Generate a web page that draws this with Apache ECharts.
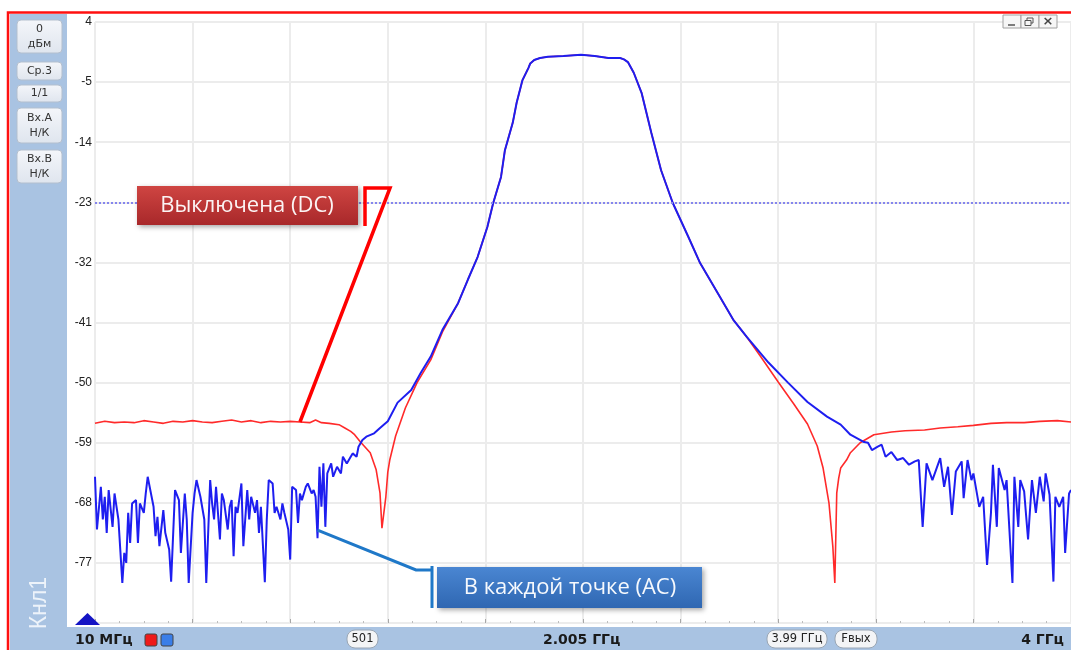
<!DOCTYPE html>
<html>
<head>
<meta charset="utf-8">
<script src="https://cdn.jsdelivr.net/npm/echarts/dist/echarts.min.js"></script>
<style>
  html, body { margin: 0; padding: 0; background: #ffffff; }
  #chart { width: 1071px; height: 650px; }
</style>
</head>
<body>
<div id="chart"></div>
<script>
// Sweep: 501 points from 10 MHz to 4 GHz; x values are sweep point indices.
const sweepLastPoint = 500;
const startLabel = '10 МГц';
const centerLabel = '2.005 ГГц';
const stopLabel = '4 ГГц';
const pointsLabel = '501';
const spanLabel = '3.99 ГГц';
const outLabel = 'Fвых';
const channelLabel = 'Кнл1';
const levelMin = -86, levelMax = 4, levelStep = 9;   // dB scale, labels -77 … 4
const refLevel = -23;                                 // dotted reference line

const panelButtons = [['0', 'дБм'], ['Ср.3'], ['1/1'], ['Вх.А', 'Н/К'], ['Вх.В', 'Н/К']];

const dcLabel = 'Выключена (DC)';
const acLabel = 'В каждой точке (AC)';

// AC-coupled trace (blue): sweep point index / level, dB
const acIdx = [0,1,3,4,5,6,7,9,10,12,14,15,16,17,18,19,21,22,23,25,26,27,29,30,31,32,33,35,36,38,39,41,43,44,46,47,48,50,51,52,54,56,57,59,60,61,62,64,65,66,68,69,70,71,72,73,75,76,78,79,80,82,83,84,85,87,88,89,91,92,93,95,96,97,99,100,101,103,104,105,106,108,109,111,112,113,114,115,116,117,118,119,121,122,124,126,127,129,131,132,134,135,137,139,143,146,150,155,162,167,172,178,186,191,196,201,204,208,210,214,216,219,222,223,225,228,232,240,249,256,263,269,271,273,276,280,285,290,296,304,310,319,327,334,345,355,365,375,382,387,394,396,398,401,403,405,408,411,414,417,420,422,424,426,429,433,435,437,439,441,444,445,447,449,450,453,455,457,459,460,462,463,466,467,470,471,473,474,476,478,480,482,484,486,487,489,491,492,494,496,497,499,500];
const acDb = [-64.1,-72.0,-65.6,-70.5,-67.1,-72.5,-66.1,-71.6,-66.6,-70.5,-80.0,-75.5,-77.0,-69.5,-74.0,-68.1,-67.6,-74.0,-68.1,-69.5,-66.6,-64.1,-67.1,-68.6,-73.0,-70.1,-74.5,-69.1,-72.5,-75.0,-79.8,-66.1,-67.6,-75.5,-66.6,-70.5,-80.0,-69.5,-66.6,-64.6,-67.1,-70.5,-80.0,-64.6,-68.1,-70.5,-65.6,-73.5,-66.6,-67.6,-72.0,-68.6,-67.6,-76.0,-68.6,-69.5,-65.1,-74.5,-66.1,-70.5,-67.1,-69.5,-67.6,-72.5,-68.6,-79.9,-70.5,-64.6,-65.1,-69.5,-68.6,-70.5,-68.1,-69.5,-72.0,-76.5,-65.6,-66.1,-71.0,-66.6,-67.6,-65.6,-65.1,-66.6,-66.1,-67.1,-73.3,-62.6,-68.6,-62.1,-71.6,-63.6,-62.1,-64.1,-62.6,-63.6,-61.1,-62.1,-61.1,-60.6,-61.1,-59.6,-58.6,-58.1,-57.6,-56.8,-55.8,-53.0,-51.1,-48.5,-46.1,-42.1,-38.1,-34.6,-31.2,-26.7,-23.1,-19.2,-15.2,-11.1,-8.1,-4.7,-2.9,-2.2,-1.7,-1.4,-1.2,-1.1,-0.9,-1.1,-1.4,-1.4,-1.6,-2.0,-3.6,-6.6,-12.6,-18.2,-23.1,-28.2,-32.1,-36.6,-40.6,-43.2,-47.0,-50.0,-52.9,-55.1,-56.3,-57.8,-58.9,-59.0,-60.1,-59.6,-59.3,-61.1,-60.4,-61.6,-61.3,-62.3,-61.8,-61.6,-71.6,-62.1,-64.6,-61.3,-65.6,-62.6,-69.8,-63.3,-61.8,-67.3,-61.6,-64.6,-63.6,-68.6,-67.1,-77.3,-69.5,-62.3,-71.6,-62.8,-66.1,-64.6,-80.0,-64.1,-71.6,-64.6,-66.3,-73.5,-64.6,-69.5,-64.1,-67.8,-63.6,-66.8,-79.8,-67.1,-68.6,-67.1,-75.5,-66.6,-66.1];

// DC-coupled trace (red): sweep point index / level, dB
const dcIdx = [0,5,10,15,20,25,30,35,40,45,50,55,60,65,70,75,80,85,90,95,100,105,110,113,116,120,125,128,131,133,136,141,144,146,147,149,150,151,154,159,165,172,178,186,191,196,201,204,208,210,214,216,219,222,223,225,228,232,240,249,256,263,269,271,273,276,280,285,290,296,304,310,319,327,334,341,350,358,365,370,373,376,378,379,380,381,382,385,387,392,399,408,415,425,433,442,450,459,467,476,484,493,500];
const dcDb = [-56.1,-55.8,-56.0,-55.9,-56.0,-55.7,-55.9,-56.1,-55.8,-55.9,-55.7,-55.9,-56.0,-55.8,-55.6,-55.9,-55.7,-56.0,-55.8,-55.9,-55.8,-55.9,-56.0,-55.6,-56.0,-56.1,-56.3,-56.8,-57.3,-57.8,-58.9,-60.5,-63.0,-66.5,-71.8,-67.1,-63.4,-61.6,-58.0,-53.8,-50.0,-46.6,-42.4,-38.1,-34.6,-31.2,-26.7,-23.1,-19.2,-15.2,-11.1,-8.1,-4.7,-2.9,-2.2,-1.7,-1.4,-1.2,-1.1,-0.9,-1.1,-1.4,-1.4,-1.6,-2.0,-3.6,-6.6,-12.6,-18.2,-23.1,-28.2,-32.1,-36.6,-40.6,-43.2,-46.1,-49.9,-53.2,-56.2,-59.5,-62.8,-68.0,-74.6,-80.0,-66.5,-64.3,-62.8,-61.6,-60.5,-59.0,-57.8,-57.4,-57.2,-57.1,-56.8,-56.6,-56.4,-56.1,-56.0,-56.0,-55.8,-55.7,-55.9];

// Points the callouts lead to (sweep indices on each trace)
const dcCalloutPoint = 105;
const acCalloutPoint = 114;

const pair = (xs, ys) => xs.map((x, i) => [x, ys[i]]);
const acData = pair(acIdx, acDb);
const dcData = pair(dcIdx, dcDb);

const PANEL = '#a9c3e2';
const UI_FONT = 'DejaVu Sans, Liberation Sans, sans-serif';

const chart = echarts.init(document.getElementById('chart'), null, { renderer: 'canvas' });

function centered(x, y, text, fill, font, extra) {
  return Object.assign({ type: 'text', z: 7, x: x, y: y,
    style: { text: text, fill: fill, font: font, align: 'center', verticalAlign: 'middle', textAlign: 'center', textVerticalAlign: 'middle' } }, extra || {});
}

function chromeGraphics() {
  const g = [];
  // instrument chrome: left channel panel and bottom status bar
  g.push({ type: 'rect', z: -5, shape: { x: 10, y: 14, width: 57, height: 640 }, style: { fill: PANEL } });
  g.push({ type: 'rect', z: -5, shape: { x: 10, y: 627, width: 1065, height: 30 }, style: { fill: PANEL } });
  g.push({ type: 'rect', z: 50, shape: { x: 8, y: 12.5, width: 1075, height: 660 }, style: { fill: null, stroke: '#ff1010', lineWidth: 2.5 } });

  // panel buttons
  const slots = [[20, 33], [62, 18], [85, 17], [108, 35], [150, 33]];
  panelButtons.forEach((lines, i) => {
    const [y, h] = slots[i];
    g.push({ type: 'rect', z: 5, shape: { x: 17, y: y, width: 45, height: h, r: 4 },
      style: { fill: { type: 'linear', x: 0, y: 0, x2: 0, y2: 1, colorStops: [{ offset: 0, color: '#f4f6fa' }, { offset: 1, color: '#dfe5ee' }] },
               stroke: '#b3bfce', lineWidth: 1 } });
    lines.forEach((t, k) => {
      const cy = y + h / 2 + (lines.length === 2 ? (k === 0 ? -7.5 : 7.5) : 0);
      g.push(centered(39.5, cy, t, '#333', '11px ' + UI_FONT));
    });
  });

  // vertical channel caption
  g.push(centered(40, 603, channelLabel, '#edf3fa', '23px Liberation Sans, Arial, sans-serif', { rotation: Math.PI / 2 }));

  // start marker
  g.push({ type: 'polygon', z: 10, shape: { points: [[75, 625], [100, 625], [87.5, 613]] }, style: { fill: '#1414c4' } });

  // status bar texts
  const bold = 'bold 14px ' + UI_FONT;
  g.push({ type: 'text', z: 6, x: 75, y: 640, style: { text: startLabel, fill: '#1a1a1a', font: bold, align: 'left', verticalAlign: 'middle', textAlign: 'left', textVerticalAlign: 'middle' } });
  g.push({ type: 'text', z: 6, x: 543, y: 640, style: { text: centerLabel, fill: '#1a1a1a', font: bold, align: 'left', verticalAlign: 'middle', textAlign: 'left', textVerticalAlign: 'middle' } });
  g.push({ type: 'text', z: 6, x: 1064, y: 640, style: { text: stopLabel, fill: '#1a1a1a', font: bold, align: 'right', verticalAlign: 'middle', textAlign: 'right', textVerticalAlign: 'middle' } });

  // trace colour keys
  g.push({ type: 'rect', z: 6, shape: { x: 145, y: 634, width: 12, height: 12, r: 2 }, style: { fill: '#ee1a1a', stroke: '#444', lineWidth: 1 } });
  g.push({ type: 'rect', z: 6, shape: { x: 161, y: 634, width: 12, height: 12, r: 2 }, style: { fill: '#3a7ee8', stroke: '#444', lineWidth: 1 } });

  // pills
  const pills = [[347, 31, pointsLabel], [767, 60, spanLabel], [835, 42, outLabel]];
  pills.forEach(([x, w, t]) => {
    g.push({ type: 'rect', z: 6, shape: { x: x, y: 630, width: w, height: 18, r: 8 }, style: { fill: '#f3f4f6', stroke: '#9aa6b4', lineWidth: 1 } });
    g.push(centered(x + w / 2, 639.5, t, '#222', '11.5px ' + UI_FONT));
  });

  // window buttons
  [1003, 1021, 1039].forEach((x) => {
    g.push({ type: 'rect', z: 6, shape: { x: x, y: 15, width: 18, height: 13 }, style: { fill: '#f6f6f6', stroke: '#a0a0a0', lineWidth: 1 } });
  });
  g.push({ type: 'line', z: 7, shape: { x1: 1008, y1: 25, x2: 1015, y2: 25 }, style: { stroke: '#555', lineWidth: 1.5 } });
  g.push({ type: 'rect', z: 7, shape: { x: 1027, y: 18, width: 6, height: 5 }, style: { fill: null, stroke: '#555', lineWidth: 1 } });
  g.push({ type: 'rect', z: 7, shape: { x: 1025, y: 20.5, width: 6, height: 5 }, style: { fill: '#f6f6f6', stroke: '#555', lineWidth: 1 } });
  g.push(centered(1048, 21.5, '×', '#444', 'bold 13px ' + UI_FONT));
  return g;
}

function calloutGraphics() {
  const g = [];
  const di = dcIdx.indexOf(dcCalloutPoint);
  const ai = acIdx.indexOf(acCalloutPoint);
  const dp = chart.convertToPixel({ gridIndex: 0 }, [dcIdx[di], dcDb[di]]);
  const ap = chart.convertToPixel({ gridIndex: 0 }, [acIdx[ai], acDb[ai]]);
  const shadow = { shadowBlur: 5, shadowColor: 'rgba(0,0,0,0.35)', shadowOffsetX: 2, shadowOffsetY: 2 };

  // DC callout
  g.push({ type: 'rect', z: 100, shape: { x: 137, y: 186, width: 221, height: 39 },
    style: Object.assign({ fill: { type: 'linear', x: 0, y: 0, x2: 0, y2: 1, colorStops: [{ offset: 0, color: '#cf4542' }, { offset: 1, color: '#a8282a' }] } }, shadow) });
  g.push(Object.assign(centered(247, 206, dcLabel, '#fbf4f4', '22px Open Sans, Noto Sans, sans-serif'), { z: 101 }));
  g.push({ type: 'polyline', z: 100, shape: { points: [[365, 226], [365, 188], [390, 188], [dp[0], dp[1]]] },
    style: { stroke: '#ff0000', lineWidth: 3.5, fill: null, lineJoin: 'miter' } });

  // AC callout
  g.push({ type: 'rect', z: 100, shape: { x: 437, y: 567, width: 265, height: 41 },
    style: Object.assign({ fill: { type: 'linear', x: 0, y: 0, x2: 0, y2: 1, colorStops: [{ offset: 0, color: '#4a86d2' }, { offset: 1, color: '#2f67b2' }] } }, shadow) });
  g.push(Object.assign(centered(570, 588, acLabel, '#f6f9fd', '22px Open Sans, Noto Sans, sans-serif'), { z: 101 }));
  g.push({ type: 'polyline', z: 100, shape: { points: [[ap[0], ap[1] - 8], [416, 570], [432, 570]] },
    style: { stroke: '#1f78c8', lineWidth: 3, fill: null } });
  g.push({ type: 'line', z: 100, shape: { x1: 432, y1: 566, x2: 432, y2: 608 }, style: { stroke: '#1f78c8', lineWidth: 3 } });
  return g;
}

const option = {
  backgroundColor: '#ffffff',
  animation: false,
  grid: { left: 95, right: 0, top: 22, bottom: 27, containLabel: false },
  xAxis: {
    type: 'value', min: 0, max: sweepLastPoint, interval: 50,
    axisLine: { show: false, onZero: false },
    axisLabel: { show: false },
    axisTick: { show: true, inside: true, length: 4, lineStyle: { color: '#a8a8a8' } },
    minorTick: { show: true, splitNumber: 4, length: 2, lineStyle: { color: '#bdbdbd' } },
    splitLine: { show: true, lineStyle: { color: '#ececec', width: 2 } }
  },
  yAxis: {
    type: 'value', min: levelMin, max: levelMax, interval: levelStep,
    axisLine: { show: false },
    axisTick: { show: false },
    axisLabel: { show: true, margin: 3, color: '#222', fontSize: 12, fontFamily: 'Liberation Sans, Arial, sans-serif', showMinLabel: false },
    splitLine: { show: true, lineStyle: { color: '#e6e6e6', width: 1.5 } }
  },
  series: [
    {
      name: 'DC', type: 'line', data: dcData, symbol: 'none', z: 3,
      lineStyle: { color: '#ff2a2a', width: 1.6 }
    },
    {
      name: 'AC', type: 'line', data: acData, symbol: 'none', z: 4,
      lineStyle: { color: '#1e1ef0', width: 2 },
      markLine: {
        silent: true, symbol: 'none', label: { show: false },
        lineStyle: { color: '#8585ee', type: 'dotted', width: 2 },
        data: [{ yAxis: refLevel }]
      }
    }
  ],
  graphic: chromeGraphics()
};

chart.setOption(option);
chart.setOption({ graphic: chromeGraphics().concat(calloutGraphics()) }, { replaceMerge: ['graphic'] });
</script>
</body>
</html>
